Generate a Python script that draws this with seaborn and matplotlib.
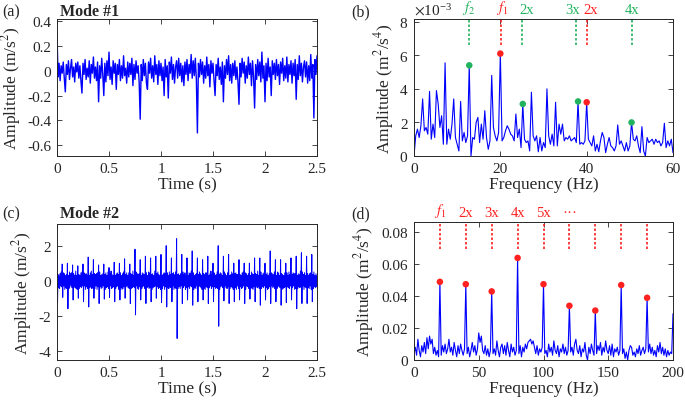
import numpy as np
import matplotlib
matplotlib.use("Agg")
import matplotlib.pyplot as plt
import seaborn as sns
from matplotlib.ticker import ScalarFormatter

dt1 = 0.01
mode1 = [
    0.30, -0.05, 0.06, -0.08, 0.04, -0.02, 0.07, -0.06, -0.17, 0.05,
    -0.03, 0.08, -0.07, 0.02, 0.09, -0.05, 0.03, -0.09, 0.06, -0.01,
    0.07, -0.06, 0.04, -0.08, -0.18, 0.06, -0.03, 0.09, -0.07, 0.02,
    -0.05, 0.08, -0.10, 0.05, -0.02, 0.11, -0.06, 0.03, -0.08, 0.07,
    -0.25, 0.04, -0.06, 0.10, -0.03, -0.20, 0.06, -0.09, 0.08, -0.04,
    0.15, -0.07, 0.03, -0.11, 0.08, -0.02, 0.06, -0.15, 0.05, -0.03,
    0.09, -0.08, 0.04, -0.06, 0.12, -0.04, 0.02, -0.10, 0.07, -0.05,
    0.06, -0.03, 0.10, -0.12, 0.05, -0.07, 0.08, -0.02, 0.04, -0.09,
    -0.39, 0.05, -0.08, 0.09, -0.04, 0.06, -0.10, -0.15, 0.07, -0.02,
    0.10, -0.06, 0.04, -0.09, 0.12, -0.03, 0.05, -0.11, 0.08, -0.04,
    0.06, -0.08, 0.03, -0.20, 0.09, -0.05, 0.04, -0.22, 0.07, -0.02,
    0.11, -0.07, 0.05, -0.10, 0.03, 0.08, -0.06, 0.10, -0.04, 0.06,
    -0.09, 0.04, -0.12, 0.07, -0.03, 0.09, -0.08, 0.05, -0.02, 0.13,
    -0.06, 0.08, -0.04, 0.10, -0.07, -0.50, 0.06, -0.05, 0.09, -0.03,
    0.07, -0.10, 0.04, -0.06, 0.11, -0.04, 0.05, -0.13, 0.08, -0.02,
    0.06, -0.08, -0.20, 0.05, -0.04, 0.10, -0.07, 0.03, -0.11, 0.07,
    -0.25, 0.04, -0.06, 0.09, -0.03, 0.12, -0.08, 0.05, -0.10, 0.06,
    -0.04, 0.08, -0.07, 0.03, -0.09, -0.27, 0.06, -0.05, 0.10, -0.02,
    0.07, -0.10, 0.04, -0.06, 0.11, -0.03, 0.06, -0.12, 0.08, -0.05,
    -0.30, 0.05, -0.07, 0.09, -0.04, 0.07, -0.09, 0.15, -0.06, 0.04,
    -0.25, 0.06, -0.08, 0.10, -0.05, 0.03, -0.20, 0.08, -0.03, 0.06,
    -0.07, 0.09, -0.04, 0.05, -0.11, 0.07, -0.02, 0.10, -0.08, 0.04,
    -0.06, 0.11, -0.09, 0.05, -0.03, 0.08, -0.10, 0.06, -0.04, 0.09,
    -0.23, 0.05, -0.07, 0.12, -0.04, 0.06, -0.09, 0.03, 0.08, -0.05,
    0.07, -0.10, 0.04, -0.08, 0.13, -0.06, 0.05, -0.38, 0.09, -0.03,
    0.12,
]

# Mode #2 time signal, sampled every 0.005 s; one row = one 0.05 s impact period
dt2 = 0.005
mode2 = [
    1.80, -1.30, 0.35, -0.40, 0.25, -0.45, 0.40, -0.30, 0.50, -0.35,
    0.95, -0.95, 0.45, -0.30, 0.40, -0.50, 0.30, -0.40, 0.35, -0.45,
    1.00, -1.60, 0.30, -0.45, 0.50, -0.35, 0.40, -0.25, 0.45, -0.40,
    0.90, -1.10, 0.40, -0.35, 0.30, -0.40, 0.55, -0.45, 0.30, -0.50,
    0.85, -1.00, 0.35, -0.45, 0.30, -0.35, 0.45, -0.40, 0.50, -0.30,
    0.95, -1.20, 0.45, -0.30, 0.35, -0.50, 0.40, -0.35, 0.30, -0.45,
    1.35, -1.50, 0.30, -0.40, 0.45, -0.35, 0.55, -0.45, 0.35, -0.40,
    1.20, -1.00, 0.40, -0.45, 0.35, -0.30, 0.40, -0.50, 0.45, -0.35,
    0.90, -1.30, 0.50, -0.35, 0.30, -0.45, 0.35, -0.40, 0.40, -0.30,
    0.95, -1.05, 0.35, -0.50, 0.45, -0.40, 0.30, -0.35, 0.50, -0.45,
    0.75, -0.95, 0.40, -0.30, 0.55, -0.45, 0.35, -0.40, 0.30, -0.35,
    1.05, -1.20, 0.30, -0.45, 0.40, -0.35, 0.45, -0.30, 0.35, -0.50,
    1.00, -1.10, 0.45, -0.40, 0.30, -0.50, 0.40, -0.45, 0.50, -0.35,
    1.25, -1.00, 0.35, -0.35, 0.45, -0.30, 0.30, -0.40, 0.45, -0.45,
    0.95, -1.30, 0.40, -0.45, 0.35, -0.40, 0.55, -0.35, 0.30, -0.40,
    1.80, -1.95, 0.50, -0.30, 0.40, -0.45, 0.35, -0.50, 0.40, -0.35,
    1.20, -1.10, 0.30, -0.45, 0.45, -0.35, 0.40, -0.30, 0.35, -0.45,
    1.40, -1.30, 0.45, -0.40, 0.30, -0.35, 0.50, -0.45, 0.45, -0.40,
    1.30, -1.20, 0.35, -0.50, 0.40, -0.40, 0.30, -0.35, 0.55, -0.30,
    1.40, -1.00, 0.40, -0.35, 0.50, -0.45, 0.35, -0.40, 0.30, -0.50,
    1.50, -1.25, 0.30, -0.45, 0.35, -0.30, 0.45, -0.50, 0.40, -0.35,
    2.00, -1.50, 0.45, -0.40, 0.30, -0.45, 0.50, -0.35, 0.35, -0.40,
    1.30, -1.20, 0.40, -0.30, 0.45, -0.50, 0.35, -0.40, 0.50, -0.45,
    2.40, -3.30, 0.35, -0.45, 0.40, -0.35, 0.30, -0.45, 0.40, -0.30,
    1.50, -1.30, 0.50, -0.40, 0.35, -0.30, 0.45, -0.50, 0.30, -0.40,
    1.30, -1.10, 0.30, -0.35, 0.45, -0.45, 0.40, -0.30, 0.55, -0.35,
    1.70, -1.40, 0.45, -0.50, 0.30, -0.40, 0.35, -0.45, 0.40, -0.30,
    1.30, -1.20, 0.35, -0.30, 0.50, -0.35, 0.40, -0.40, 0.30, -0.50,
    1.20, -1.10, 0.40, -0.45, 0.35, -0.50, 0.45, -0.35, 0.45, -0.40,
    1.40, -1.30, 0.30, -0.40, 0.40, -0.30, 0.55, -0.45, 0.35, -0.35,
    1.00, -1.20, 0.45, -0.35, 0.30, -0.45, 0.35, -0.40, 0.50, -0.45,
    2.00, -2.60, 0.35, -0.50, 0.45, -0.35, 0.40, -0.30, 0.30, -0.40,
    1.40, -1.15, 0.50, -0.30, 0.40, -0.40, 0.30, -0.45, 0.45, -0.35,
    1.50, -1.30, 0.30, -0.45, 0.35, -0.35, 0.50, -0.40, 0.40, -0.50,
    1.00, -1.20, 0.40, -0.40, 0.45, -0.50, 0.35, -0.30, 0.35, -0.45,
    1.20, -1.10, 0.35, -0.35, 0.30, -0.45, 0.45, -0.40, 0.50, -0.30,
    1.00, -1.30, 0.45, -0.50, 0.40, -0.30, 0.30, -0.35, 0.40, -0.45,
    1.00, -1.05, 0.30, -0.40, 0.50, -0.45, 0.40, -0.50, 0.35, -0.35,
    1.30, -1.20, 0.40, -0.30, 0.35, -0.40, 0.55, -0.35, 0.30, -0.45,
    1.30, -1.40, 0.50, -0.45, 0.30, -0.35, 0.40, -0.40, 0.45, -0.30,
    1.00, -1.10, 0.35, -0.40, 0.45, -0.50, 0.30, -0.45, 0.40, -0.35,
    1.70, -1.30, 0.45, -0.30, 0.40, -0.40, 0.35, -0.35, 0.50, -0.45,
    1.20, -1.20, 0.30, -0.45, 0.50, -0.35, 0.45, -0.30, 0.30, -0.40,
    1.20, -1.40, 0.40, -0.50, 0.35, -0.45, 0.30, -0.40, 0.45, -0.35,
    1.00, -1.25, 0.45, -0.35, 0.30, -0.40, 0.50, -0.45, 0.35, -0.30,
    1.30, -1.10, 0.35, -0.40, 0.45, -0.30, 0.40, -0.50, 0.40, -0.45,
    1.40, -1.60, 0.30, -0.45, 0.40, -0.35, 0.35, -0.40, 0.55, -0.35,
    1.60, -1.30, 0.50, -0.30, 0.35, -0.50, 0.45, -0.35, 0.30, -0.40,
    1.40, -1.30, 0.40, -0.40, 0.30, -0.45, 0.40, -0.30, 0.45, -0.50,
    1.50, -1.20, 0.35, -0.45, 0.50, -0.35, 0.30, -0.40, 0.40, -0.35,
    0.30,
]

# Spectrum of mode #1, 0.4 Hz bins, amplitude in 1e-3 m^2/s^4
df_b = 0.4
spec1_milli = [
    0.0, 1.2, 1.6, 1.1, 1.8, 3.4, 1.5, 1.7, 1.3, 3.85,
    1.0, 1.9, 1.1, 3.9, 3.1, 1.7, 2.4, 0.7, 5.55, 0.7,
    1.6, 1.0, 1.9, 3.4, 1.1, 0.7, 0.3, 3.25, 0.9, 1.4,
    0.8, 1.2, 5.4, 0.0, 1.1, 1.0, 2.0, 2.3, 0.8, 1.9,
    1.0, 2.7, 1.1, 0.4, 0.9, 4.8, 1.7, 1.2, 0.9, 1.4,
    6.1, 0.9, 1.1, 1.5, 1.8, 1.6, 1.3, 1.2, 0.9, 2.5,
    1.1, 1.6, 0.5, 3.1, 1.0, 0.8, 0.9, 0.3, 3.8, 1.2,
    0.9, 1.2, 0.25, 1.1, 0.3, 0.8, 0.5, 4.0, 1.2, 0.7,
    1.3, 0.6, 3.2, 0.6, 1.9, 1.3, 1.9, 0.9, 1.1, 1.0,
    1.2, 0.9, 1.0, 1.1, 0.8, 3.25, 0.7, 0.8, 0.7, 0.9,
    3.2, 1.0, 0.8, 0.6, 1.2, 0.3, 0.7, 0.25, 0.9, 1.4,
    1.1, 0.2, 0.7, 1.1, 0.6, 0.5, 0.3, 0.6, 1.85, 0.7,
    0.9, 0.6, 0.3, 0.8, 0.3, 0.6, 2.0, 1.0, 0.9, 1.2,
    0.6, 0.2, 1.75, 0.3, 0.0, 1.1, 0.8, 0.9, 1.0, 0.7,
    1.0, 0.8, 0.9, 0.6, 0.8, 1.95, 0.5, 0.9, 0.6, 1.0,
    0.2,
]
f1_b = [20.0, 40.0]
f2_b = [12.8, 25.2, 38.0, 50.4]
f1_b_lines = [20.1, 40.0]
f2_b_lines = [12.8, 25.1, 37.6, 50.5]
f1_b_labels = ["$f_1$", "2x"]
f2_b_labels = ["$f_2$", "2x", "3x", "4x"]
f1_b_label_x = [20.3, 41.0]
f2_b_label_x = [12.6, 26.2, 36.8, 50.6]

# Spectrum of mode #2, 1 Hz bins
df_d = 1.0
spec2 = [
    0.004, 0.008, 0.003, 0.013, 0.006, 0.002, 0.009, 0.005, 0.011, 0.004,
    0.014, 0.007, 0.015, 0.010, 0.013, 0.004, 0.008, 0.003, 0.006, 0.002,
    0.049, 0.003, 0.009, 0.005, 0.010, 0.004, 0.007, 0.013, 0.005, 0.008,
    0.003, 0.011, 0.006, 0.002, 0.009, 0.004, 0.010, 0.006, 0.003, 0.007,
    0.0475, 0.004, 0.008, 0.002, 0.006, 0.011, 0.005, 0.009, 0.003, 0.007,
    0.017, 0.011, 0.015, 0.006, 0.004, 0.009, 0.003, 0.007, 0.002, 0.006,
    0.043, 0.004, 0.007, 0.003, 0.012, 0.006, 0.002, 0.008, 0.010, 0.004,
    0.009, 0.003, 0.011, 0.006, 0.002, 0.010, 0.005, 0.008, 0.003, 0.006,
    0.064, 0.004, 0.009, 0.002, 0.008, 0.005, 0.010, 0.007, 0.011, 0.012,
    0.013, 0.010, 0.012, 0.008, 0.004, 0.009, 0.003, 0.007, 0.005, 0.008,
    0.0475, 0.004, 0.006, 0.002, 0.010, 0.005, 0.008, 0.003, 0.012, 0.006,
    0.004, 0.009, 0.002, 0.007, 0.005, 0.010, 0.004, 0.008, 0.003, 0.006,
    0.034, 0.005, 0.008, 0.003, 0.010, 0.013, 0.006, 0.004, 0.009, 0.002,
    0.007, 0.005, 0.011, 0.003, 0.000, 0.008, 0.004, 0.010, 0.006, 0.003,
    0.031, 0.004, 0.009, 0.006, 0.011, 0.003, 0.008, 0.005, 0.012, 0.006,
    0.004, 0.009, 0.003, 0.010, 0.002, 0.007, 0.005, 0.008, 0.003, 0.006,
    0.047, 0.004, 0.007, 0.001, 0.005, 0.000, 0.006, 0.009, 0.008, 0.003,
    0.005, 0.002, 0.007, 0.004, 0.009, 0.003, 0.006, 0.008, 0.004, 0.007,
    0.039, 0.005, 0.010, 0.004, 0.008, 0.003, 0.006, 0.002, 0.009, 0.005,
    0.011, 0.004, 0.008, 0.003, 0.007, 0.002, 0.006, 0.003, 0.005, 0.004,
    0.029,
]
harm_d = [20, 40, 60, 80, 100, 120, 140, 160, 180]
harm_d_labels = ["$f_1$", "2x", "3x", "4x", "5x", "\u00b7\u00b7\u00b7"]

BLUE = "#0000ff"
RED = "#ff2020"
GREEN = "#22b35e"

sns.set_style("ticks")
plt.rcParams['font.family'] = ['Liberation Serif', 'DejaVu Serif']
plt.rcParams['mathtext.fontset'] = 'stix'
plt.rcParams['axes.unicode_minus'] = False


def style_axes(ax):
    for s in ax.spines.values():
        s.set_color('#262626')
        s.set_linewidth(0.7)
    ax.tick_params(direction='in', top=True, right=True, length=3.5, width=0.6,
                   color='#262626', labelsize=11, labelcolor='#262626', pad=4)
    ax.xaxis.label.set_size(12.5)
    ax.yaxis.label.set_size(12.5)


def peak_values(freq, spec, targets):
    idx = [int(np.argmin(np.abs(freq - f))) for f in targets]
    return freq[idx], spec[idx]


fig = plt.figure(figsize=(6.85, 4.06), dpi=100)
W, H = 685, 406


def add_ax(left, top, right, bottom):
    return fig.add_axes([left / W, 1 - bottom / H, (right - left) / W, (bottom - top) / H])


ax_a = add_ax(57, 20, 317, 157)
ax_b = add_ax(414, 20, 673, 157)
ax_c = add_ax(57, 225, 317, 361)
ax_d = add_ax(414, 223, 673, 361)

# (a) mode 1 time signal
t1 = np.arange(len(mode1)) * dt1
sns.lineplot(x=t1, y=mode1, ax=ax_a, color=BLUE, lw=1.0, estimator=None, sort=False)
ax_a.set_xlim(0, 2.5)
ax_a.set_ylim(-0.686, 0.416)
ax_a.set_xticks([0, 0.5, 1, 1.5, 2, 2.5])
ax_a.set_xticklabels(["0", "0.5", "1", "1.5", "2", "2.5"])
ax_a.set_yticks([-0.6, -0.4, -0.2, 0, 0.2, 0.4])
ax_a.set_yticklabels(["-0.6", "-0.4", "-0.2", "0", "0.2", "0.4"])
ax_a.set_xlabel("Time (s)", labelpad=1)
ax_a.set_ylabel("Amplitude (m/s$^2$)")
ax_a.yaxis.set_label_coords(-0.131, 0.5)

# (c) mode 2 time signal
t2 = np.arange(len(mode2)) * dt2
sns.lineplot(x=t2, y=mode2, ax=ax_c, color=BLUE, lw=0.7, estimator=None, sort=False)
ax_c.set_xlim(0, 2.5)
ax_c.set_ylim(-4.53, 3.24)
ax_c.set_xticks([0, 0.5, 1, 1.5, 2, 2.5])
ax_c.set_xticklabels(["0", "0.5", "1", "1.5", "2", "2.5"])
ax_c.set_yticks([-4, -2, 0, 2])
ax_c.set_yticklabels(["-4", "-2", "0", "2"])
ax_c.set_xlabel("Time (s)", labelpad=1)
ax_c.set_ylabel("Amplitude (m/s$^2$)")
ax_c.yaxis.set_label_coords(-0.088, 0.5)

# (b) spectrum of mode 1
fb = np.arange(len(spec1_milli)) * df_b
sb = np.array(spec1_milli) * 1e-3
sns.lineplot(x=fb, y=sb, ax=ax_b, color=BLUE, lw=0.8, estimator=None, sort=False)
ax_b.set_xlim(0, 60)
ax_b.set_ylim(0, 8.16e-3)
ax_b.set_xticks([0, 20, 40, 60])
ax_b.set_yticks([0, 2e-3, 4e-3, 6e-3, 8e-3])
fmt = ScalarFormatter(useMathText=True)
fmt.set_powerlimits((-3, -3))
ax_b.yaxis.set_major_formatter(fmt)
ax_b.yaxis.get_offset_text().set_size(11)
ax_b.set_xlabel("Frequency (Hz)", labelpad=1)
ax_b.set_ylabel("Amplitude (m$^2$/s$^4$)")
ax_b.yaxis.set_label_coords(-0.069, 0.5)

top_b = 8.16e-3
ax_b.vlines(f2_b_lines, 6.6e-3, top_b, colors=GREEN, linestyles=(0, (1.5, 1.2)), lw=1.2)
ax_b.vlines(f1_b_lines, 6.6e-3, top_b, colors=RED, linestyles=(0, (1.5, 1.2)), lw=1.2)
px, py = peak_values(fb, sb, f2_b)
sns.scatterplot(x=px, y=py, ax=ax_b, color=GREEN, s=22, edgecolor='none', zorder=3)
px, py = peak_values(fb, sb, f1_b)
sns.scatterplot(x=px, y=py, ax=ax_b, color=RED, s=22, edgecolor='none', zorder=3)
trans_b = ax_b.get_xaxis_transform()
for f, lab in zip(f2_b_label_x, f2_b_labels):
    ax_b.text(f, 1.02, lab, transform=trans_b, ha='center', va='bottom', color=GREEN, fontsize=10.5)
for f, lab in zip(f1_b_label_x, f1_b_labels):
    ax_b.text(f, 1.02, lab, transform=trans_b, ha='center', va='bottom', color=RED, fontsize=10.5)

# (d) spectrum of mode 2
fd = np.arange(len(spec2)) * df_d
sd = np.array(spec2)
sns.lineplot(x=fd, y=sd, ax=ax_d, color=BLUE, lw=0.8, estimator=None, sort=False)
ax_d.set_xlim(0, 200)
ax_d.set_ylim(0, 0.0865)
ax_d.set_xticks([0, 50, 100, 150, 200])
ax_d.set_yticks([0, 0.02, 0.04, 0.06, 0.08])
ax_d.set_yticklabels(["0", "0.02", "0.04", "0.06", "0.08"])
ax_d.set_xlabel("Frequency (Hz)", labelpad=1)
ax_d.set_ylabel("Amplitude (m$^2$/s$^4$)")
ax_d.yaxis.set_label_coords(-0.147, 0.5)
ax_d.vlines(harm_d, 0.0695, 0.0865, colors=RED, linestyles=(0, (1.5, 1.2)), lw=1.2)
px, py = peak_values(fd, sd, harm_d)
sns.scatterplot(x=px, y=py, ax=ax_d, color=RED, s=22, edgecolor='none', zorder=3)
trans_d = ax_d.get_xaxis_transform()
for f, lab in zip(harm_d, harm_d_labels):
    ax_d.text(f, 1.02, lab, transform=trans_d, ha='center', va='bottom', color=RED, fontsize=10.5)

for ax in (ax_a, ax_b, ax_c, ax_d):
    style_axes(ax)

# panel tags and titles
fig.text(2 / W, 1 - 12 / H, "(a)", fontsize=11.5, va='center', ha='left')
fig.text(60 / W, 1 - 12 / H, "Mode #1", fontsize=11.5, fontweight='bold', va='center', ha='left')
fig.text(351 / W, 1 - 12 / H, "(b)", fontsize=11.5, va='center', ha='left')
fig.text(2 / W, 1 - 214 / H, "(c)", fontsize=11.5, va='center', ha='left')
fig.text(60 / W, 1 - 214 / H, "Mode #2", fontsize=11.5, fontweight='bold', va='center', ha='left')
fig.text(351 / W, 1 - 214 / H, "(d)", fontsize=11.5, va='center', ha='left')

fig.savefig("out.png", dpi=100)
